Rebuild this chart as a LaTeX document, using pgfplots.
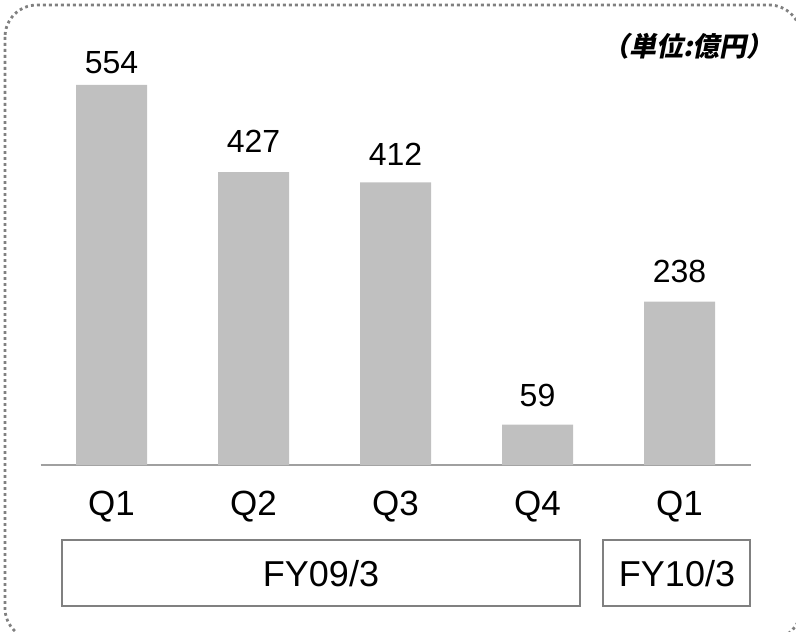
\documentclass[border=0pt]{standalone}
\usepackage{pgfplots}
\pgfplotsset{compat=1.18}
\usepackage{pgfplotstable}
\usepackage{fontspec}
\setmainfont{Liberation Sans}
\newfontfamily\cjk[FakeSlant=0.2]{Noto Sans CJK JP}
\definecolor{barc}{RGB}{192,192,192}
\definecolor{bord}{RGB}{128,128,128}
\definecolor{boxc}{RGB}{128,128,128}
\definecolor{basec}{RGB}{160,160,160}
\pgfplotstableread{
x y off
0 554 5.8
1 427 10
2 412 8.5
3 59 9
4 238 9.5
}\datatab
\begin{document}
\begin{tikzpicture}
\path[use as bounding box] (0,0) rectangle (398pt,-315.5pt);
\begin{scope}[x=0.5pt,y=-0.5pt]
\draw[bord, line width=1.4pt, dash pattern=on 1.4pt off 1.6pt, rounded corners=16pt] (5,5) rectangle (801,640);
\draw[boxc, line width=0.8pt] (62,540) rectangle (580,606);
\draw[boxc, line width=0.8pt] (603,540) rectangle (750,606);
\node[anchor=base, inner sep=0pt, font=\fontsize{18}{21}\selectfont] at (321,586) {FY09/3};
\node[anchor=base, inner sep=0pt, font=\fontsize{18}{21}\selectfont] at (677,586) {FY10/3};
\node[inner sep=0pt, font=\fontsize{13.5}{16}\selectfont] at (688,46) {\cjk\bfseries （単位:億円）};
\end{scope}
\begin{axis}[
  anchor=origin, at={(55.75pt,-232.5pt)},
  x=71pt, y=0.343pt,
  xmin=-0.5, xmax=4.5, ymin=0, ymax=620,
  clip=false,
  axis y line=none,
  axis x line*=bottom,
  x axis line style={basec, line width=0.75pt, -},
  xtick=data, xticklabels={Q1,Q2,Q3,Q4,Q1},
  major tick length=0pt,
  xticklabel style={anchor=base, inner sep=0pt, yshift=-25pt, font=\fontsize{17.5}{20}\selectfont},
  /pgf/number format/assume math mode=true,
  ybar, bar width=35.5pt,
]
\addplot[fill=barc, draw=none,
  visualization depends on={\thisrow{off} \as \off},
  nodes near coords,
  every node near coord/.append style={anchor=base, inner sep=0pt, yshift=\off*1pt, font=\fontsize{16}{19}\selectfont, black}
] table[x=x, y=y] {\datatab};
\end{axis}
\end{tikzpicture}
\end{document}
